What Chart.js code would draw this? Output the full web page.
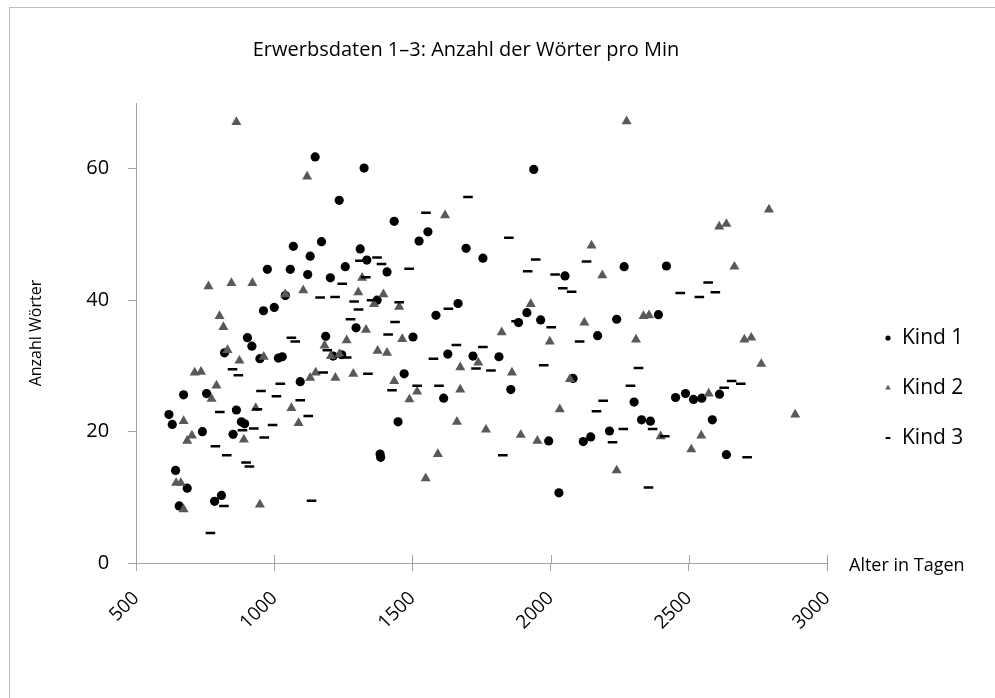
<!DOCTYPE html>
<html>
<head>
<meta charset="utf-8">
<script src="https://cdn.jsdelivr.net/npm/chart.js@4.4.1/dist/chart.umd.min.js"></script>
<style>
  html, body { margin: 0; padding: 0; background: #fff; overflow: hidden; }
  #frame { position: absolute; left: 9px; top: 7px; width: 1100px; height: 800px;
           border-left: 1px solid #bfbfbf; border-top: 1px solid #bfbfbf; }
  #wrap { position: absolute; left: 0; top: 0; width: 995px; height: 698px; }
</style>
</head>
<body>
<div id="frame"></div>
<div id="wrap"><canvas id="words-chart"></canvas></div>
<script>
// Alter in Tagen / Anzahl Wörter, one pair of arrays per child
const kind1Age = [1148, 1325, 1235, 1069, 1171, 1311, 1130, 1335, 975, 1058, 1121, 1203, 1257, 961, 1000, 1040, 1296, 903, 1186, 1939,
  1434, 1556, 1524, 1694, 1755, 1408, 2052, 1372, 1665, 1585, 1914, 1884, 1964, 2170, 1502, 2266, 2419, 2239, 2390, 919,
  820, 948, 1015, 1029, 1213, 1244, 1094, 672, 755, 619, 631, 740, 863, 881, 893, 851, 643, 685, 656, 809,
  784, 1628, 1719, 1813, 1470, 1613, 1856, 1448, 1383, 1385, 1993, 2118, 2145, 2030, 2081, 2302, 2329, 2361, 2213, 2452,
  2488, 2517, 2547, 2611, 2585, 2636];
const kind1Words = [61.8, 60.1, 55.2, 48.2, 48.9, 47.8, 46.7, 46.1, 44.7, 44.7, 43.9, 43.4, 45.1, 38.4, 38.9, 40.7, 35.8, 34.3, 34.5, 59.9,
  52.0, 50.4, 49.0, 47.9, 46.4, 44.3, 43.7, 40.0, 39.5, 37.7, 38.1, 36.6, 37.0, 34.6, 34.4, 45.1, 45.2, 37.1, 37.8, 33.0,
  32.0, 31.1, 31.2, 31.4, 31.5, 31.7, 27.6, 25.6, 25.8, 22.6, 21.1, 20.0, 23.3, 21.5, 21.2, 19.6, 14.1, 11.4, 8.7, 10.3,
  9.4, 31.8, 31.5, 31.4, 28.8, 25.1, 26.4, 21.5, 16.6, 16.1, 18.6, 18.5, 19.2, 10.7, 28.1, 24.5, 21.8, 21.6, 20.1, 25.2,
  25.8, 24.9, 25.1, 25.7, 21.8, 16.5];

const kind2Age = [863, 1119, 762, 845, 921, 1105, 1040, 802, 816, 1318, 1304, 1332, 1618, 2148, 2187, 1395, 1361, 1452, 1928, 2122,
  1823, 2275, 2790, 2610, 2636, 2665, 2336, 2356, 2309, 2701, 2726, 831, 874, 962, 712, 735, 791, 773, 1262, 1182,
  1205, 1236, 1130, 1150, 1221, 1286, 933, 1062, 1088, 672, 702, 685, 890, 645, 662, 672, 948, 1463, 1374, 1408,
  1673, 1738, 1434, 1517, 1489, 1673, 1860, 1997, 2070, 2033, 1661, 1766, 1892, 1952, 1592, 1548, 2762, 2885, 2572, 2545,
  2509, 2398, 2239];
const kind2Words = [67.1, 58.8, 42.1, 42.6, 42.6, 41.5, 40.9, 37.6, 35.9, 43.4, 41.2, 35.5, 52.9, 48.3, 43.8, 40.9, 39.4, 39.0, 39.4, 36.6,
  35.1, 67.2, 53.8, 51.2, 51.6, 45.1, 37.6, 37.7, 34.0, 34.0, 34.3, 32.4, 30.8, 31.4, 29.0, 29.1, 27.0, 25.0, 33.9, 33.1,
  31.5, 31.8, 28.2, 29.0, 28.2, 28.8, 23.6, 23.6, 21.3, 21.6, 19.4, 18.6, 18.8, 12.2, 12.2, 8.2, 8.9, 34.1, 32.3, 32.0,
  29.8, 30.5, 27.7, 26.1, 24.9, 26.4, 29.0, 33.7, 28.0, 23.4, 21.5, 20.3, 19.5, 18.6, 16.6, 12.9, 30.3, 22.6, 25.8, 19.4,
  17.3, 19.3, 14.1];

const kind3Age = [1310, 1331, 1246, 1166, 1220, 1289, 1305, 1276, 1062, 1701, 1549, 1849, 1372, 1388, 1488, 1946, 1917, 2130, 2016, 2044,
  2076, 1352, 1452, 1630, 1437, 1875, 2002, 1412, 2570, 2469, 2538, 2596, 1076, 1192, 1262, 849, 870, 1177, 1339, 1022,
  952, 1008, 1094, 1123, 803, 939, 994, 885, 926, 964, 787, 828, 898, 910, 818, 1135, 769, 1659, 1755, 1576,
  1730, 1784, 1975, 2105, 1517, 1596, 1426, 2166, 2190, 1827, 2318, 2289, 2263, 2224, 2369, 2413, 2354, 2628, 2655, 2688,
  2711];
const kind3Words = [46.0, 43.5, 42.5, 40.4, 40.5, 39.8, 38.6, 37.1, 34.3, 55.7, 53.3, 49.5, 46.5, 45.5, 44.8, 46.2, 44.4, 45.9, 43.9, 41.8,
  41.3, 40.0, 39.7, 38.7, 36.7, 36.8, 35.9, 34.8, 42.7, 41.1, 40.5, 41.2, 33.7, 32.4, 31.3, 29.5, 28.6, 29.0, 28.8, 27.3,
  26.2, 25.4, 24.8, 22.4, 23.0, 23.4, 21.0, 20.2, 20.5, 19.1, 17.8, 16.4, 15.3, 14.7, 8.7, 9.5, 4.6, 33.2, 32.9, 31.1,
  29.6, 29.3, 30.1, 33.7, 27.0, 27.0, 26.3, 23.1, 24.7, 16.4, 29.7, 27.0, 20.4, 18.4, 20.4, 19.3, 11.5, 26.7, 27.7, 27.3,
  16.1];

const seriesNames = ['Kind 1', 'Kind 2', 'Kind 3'];
const xTickValues = [500, 1000, 1500, 2000, 2500, 3000];
const yTickValues = [0, 20, 40, 60];

const chartTitle = 'Erwerbsdaten 1–3: Anzahl der Wörter pro Min';
const xTitle = 'Alter in Tagen';
const yTitle = 'Anzahl Wörter';

const fontFamily = "'Open Sans', sans-serif";
const axisColor = '#a3a3a3';
const textColor = '#000';

function toPoints(ages, words) {
  return ages.map((age, i) => ({ x: age, y: words[i] }));
}

const wordsData = {
  datasets: [
    {
      label: seriesNames[0],
      data: toPoints(kind1Age, kind1Words),
      pointStyle: 'circle',
      pointRadius: 4.6,
      backgroundColor: '#000',
      borderColor: '#000',
      borderWidth: 0,
      order: 3,
    },
    {
      label: seriesNames[1],
      data: toPoints(kind2Age, kind2Words),
      pointStyle: 'triangle',
      pointRadius: 5.8,
      backgroundColor: '#595959',
      borderColor: '#595959',
      borderWidth: 0,
      order: 2,
    },
    {
      label: seriesNames[2],
      data: toPoints(kind3Age, kind3Words),
      pointStyle: 'line',
      pointRadius: 4.8,
      backgroundColor: '#000',
      borderColor: '#000',
      borderWidth: 2.5,
      order: 1,
    },
  ],
};

// title, x axis title at the right end, legend, inner half of x ticks
const decorations = {
  id: 'decorations',
  beforeDatasetsDraw(chart) {
    const { ctx, chartArea, scales } = chart;
    ctx.save();
    ctx.strokeStyle = axisColor;
    ctx.lineWidth = 1;
    scales.x.ticks.forEach((t) => {
      const px = Math.round(scales.x.getPixelForValue(t.value)) + 0.5;
      ctx.beginPath();
      ctx.moveTo(px, chartArea.bottom);
      ctx.lineTo(px, chartArea.bottom - 8);
      ctx.stroke();
    });
    ctx.restore();
  },
  afterDraw(chart) {
    const { ctx, chartArea } = chart;
    ctx.save();
    ctx.fillStyle = textColor;
    ctx.textBaseline = 'middle';

    ctx.font = '20px ' + fontFamily;
    ctx.textAlign = 'center';
    ctx.fillText(chartTitle, 466, 50);

    ctx.font = '18px ' + fontFamily;
    ctx.textAlign = 'left';
    ctx.fillText(xTitle, chartArea.right + 22, chartArea.bottom + 3);

    // legend
    const legendStyles = [
      { pointStyle: 'circle', radius: 2.6, borderWidth: 0 },
      { pointStyle: 'triangle', radius: 3.2, borderWidth: 0 },
      { pointStyle: 'line', radius: 2.4, borderWidth: 2 },
    ];
    ctx.font = '21px ' + fontFamily;
    chart.data.datasets.forEach((ds, i) => {
      const y = 338 + i * 50;
      ctx.fillStyle = ds.backgroundColor;
      ctx.strokeStyle = ds.borderColor;
      ctx.lineWidth = legendStyles[i].borderWidth;
      Chart.helpers.drawPoint(ctx, { ...legendStyles[i], rotation: 0 }, 888, y);
      ctx.fillStyle = textColor;
      ctx.fillText(ds.label, 902, y);
    });
    ctx.restore();
  },
};

const wordsOptions = {
  responsive: true,
  maintainAspectRatio: false,
  animation: false,
  layout: {
    padding: { top: 103, right: 168, bottom: 48, left: 27 },
  },
  scales: {
    x: {
      type: 'linear',
      min: 500,
      max: 3000,
      afterBuildTicks: (scale) => {
        scale.ticks = xTickValues.map((v) => ({ value: v }));
      },
      grid: { drawOnChartArea: false, drawTicks: true, tickLength: 8, color: axisColor },
      border: { color: axisColor },
      ticks: {
        minRotation: 45,
        maxRotation: 45,
        autoSkip: false,
        padding: 16,
        color: textColor,
        font: { family: fontFamily, size: 19 },
        callback: (value) => String(value),
      },
    },
    y: {
      min: 0,
      max: 70,
      afterBuildTicks: (scale) => {
        scale.ticks = yTickValues.map((v) => ({ value: v }));
      },
      grid: { drawOnChartArea: false, drawTicks: true, tickLength: 8, color: axisColor },
      border: { color: axisColor },
      ticks: {
        padding: 19,
        color: textColor,
        font: { family: fontFamily, size: 20 },
        callback: (value) => String(value),
      },
      title: {
        display: true,
        text: yTitle,
        color: textColor,
        padding: { top: 0, bottom: 21 },
        font: { family: fontFamily, size: 16 },
      },
    },
  },
  plugins: {
    legend: { display: false },
    tooltip: { enabled: false },
  },
};

const wordsChart = new Chart(document.getElementById('words-chart'), {
  type: 'scatter',
  data: wordsData,
  options: wordsOptions,
  plugins: [decorations],
});
</script>
</body>
</html>
